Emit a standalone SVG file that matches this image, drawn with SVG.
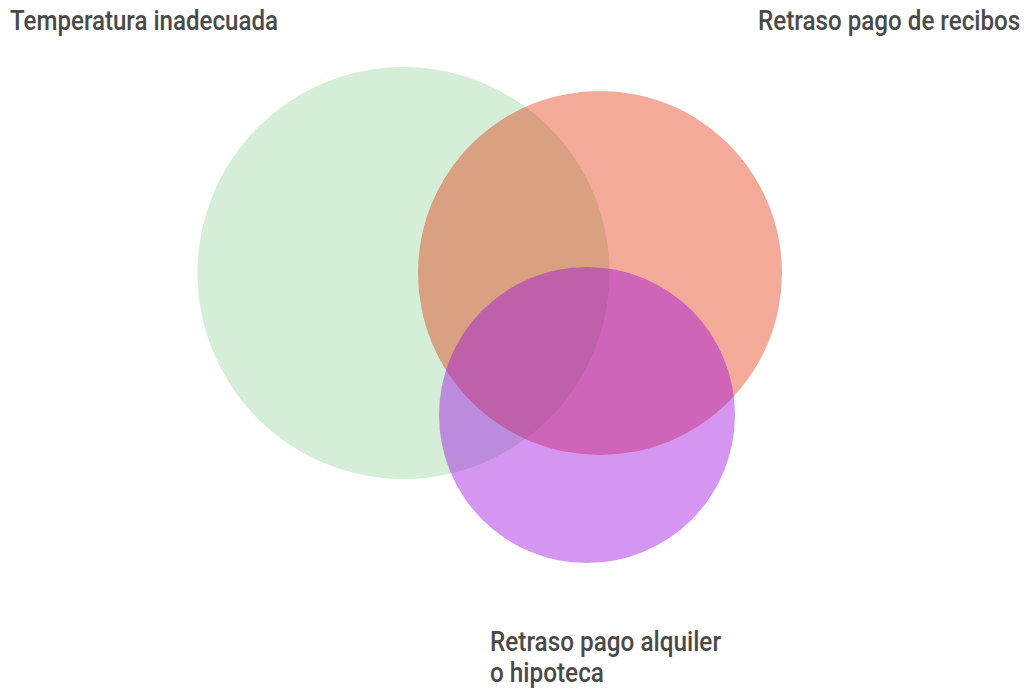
<svg xmlns="http://www.w3.org/2000/svg" width="1027" height="689" viewBox="0 0 1027 689">
<style>
.lbl{font-family:Roboto,"Liberation Sans",sans-serif;font-size:27px;font-weight:500;fill:#4a4a4a;}
</style>
<rect width="1027" height="689" fill="#ffffff"/>
<g id="temperatura">
<circle cx="403.5" cy="273" r="206" fill="rgb(147,212,157)" fill-opacity="0.4"/>
</g>
<g id="recibos">
<circle cx="600" cy="273" r="182" fill="rgb(225,43,0)" fill-opacity="0.4"/>
</g>
<g id="alquiler">
<circle cx="587" cy="415" r="148" fill="rgb(157,11,225)" fill-opacity="0.43"/>
</g>
<g id="labels">
<text class="lbl" transform="translate(10 30) scale(0.88 1)" x="0" y="0" textLength="304.5" lengthAdjust="spacingAndGlyphs">Temperatura inadecuada</text>
<text class="lbl" transform="translate(758 30) scale(0.88 1)" x="0" y="0" textLength="298" lengthAdjust="spacingAndGlyphs">Retraso pago de recibos</text>
<text class="lbl" transform="translate(490 651) scale(0.88 1)" x="0" y="0" textLength="262.5" lengthAdjust="spacingAndGlyphs">Retraso pago alquiler</text>
<text class="lbl" transform="translate(490 682) scale(0.88 1)" x="0" y="0" textLength="129.5" lengthAdjust="spacingAndGlyphs">o hipoteca</text>
</g>
</svg>
